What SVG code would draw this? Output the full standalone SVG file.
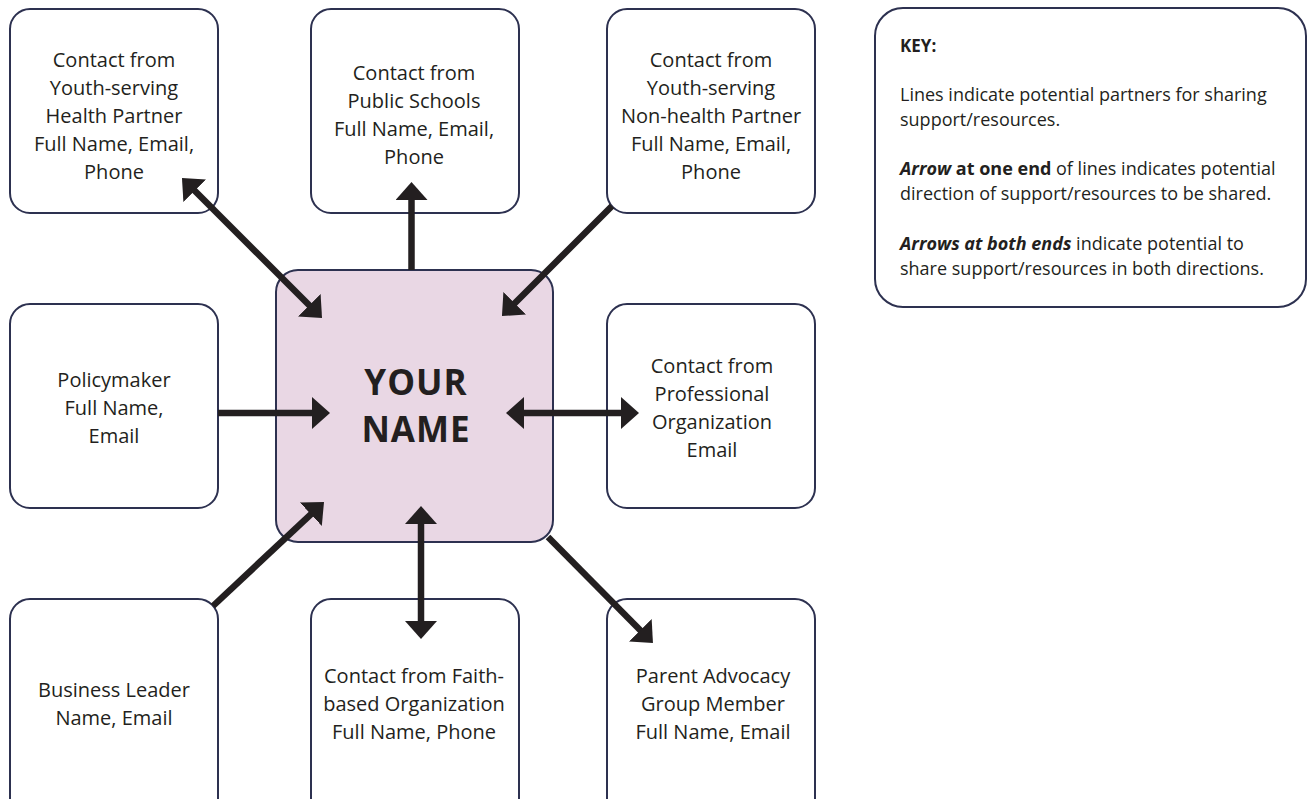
<svg xmlns="http://www.w3.org/2000/svg" width="1307" height="799" viewBox="0 0 1307 799">
<defs>
<style>
.box{fill:#ffffff;stroke:#2d3150;stroke-width:2}
.center{fill:#e9d7e4;stroke:#2d3150;stroke-width:2}
.t{font-family:"Open Sans","Noto Sans",sans-serif;font-size:20px;fill:#231f20;text-anchor:middle}
.big{font-family:"Open Sans","Noto Sans",sans-serif;font-size:35px;font-weight:bold;fill:#231f20;text-anchor:middle;letter-spacing:1px}
.k{font-family:"Open Sans","Noto Sans",sans-serif;font-size:18px;fill:#231f20}
.kb{font-weight:bold}
.kbi{font-weight:bold;font-style:italic}
.conn{stroke:#231f20;stroke-width:6.5;fill:none}
.one{marker-end:url(#ah)}
.two{marker-start:url(#ah);marker-end:url(#ah)}
</style>
<marker id="ah" viewBox="0 -16 18 32" refX="1" refY="0" markerWidth="18" markerHeight="32" markerUnits="userSpaceOnUse" orient="auto-start-reverse">
<path d="M0,-16 L18,0 L0,16 z" fill="#231f20"/>
</marker>
</defs>

<g id="node-health">
<rect class="box" x="10" y="9" width="208" height="204" rx="20"/>
<text class="t" x="114" y="67">Contact from</text>
<text class="t" x="114" y="95">Youth-serving</text>
<text class="t" x="114" y="123">Health Partner</text>
<text class="t" x="114" y="151">Full Name, Email,</text>
<text class="t" x="114" y="179">Phone</text>
</g>

<g id="node-schools">
<rect class="box" x="311" y="9" width="208" height="204" rx="20"/>
<text class="t" x="414" y="80">Contact from</text>
<text class="t" x="414" y="108">Public Schools</text>
<text class="t" x="414" y="136">Full Name, Email,</text>
<text class="t" x="414" y="164">Phone</text>
</g>

<g id="node-nonhealth">
<rect class="box" x="607" y="9" width="208" height="204" rx="20"/>
<text class="t" x="711" y="67">Contact from</text>
<text class="t" x="711" y="95">Youth-serving</text>
<text class="t" x="711" y="123">Non-health Partner</text>
<text class="t" x="711" y="151">Full Name, Email,</text>
<text class="t" x="711" y="179">Phone</text>
</g>

<g id="node-policymaker">
<rect class="box" x="10" y="304" width="208" height="204" rx="20"/>
<text class="t" x="114" y="387">Policymaker</text>
<text class="t" x="114" y="415">Full Name,</text>
<text class="t" x="114" y="443">Email</text>
</g>

<g id="node-professional">
<rect class="box" x="607" y="304" width="208" height="204" rx="20"/>
<text class="t" x="712" y="373">Contact from</text>
<text class="t" x="712" y="401">Professional</text>
<text class="t" x="712" y="429">Organization</text>
<text class="t" x="712" y="457">Email</text>
</g>

<g id="node-business">
<rect class="box" x="10" y="599" width="208" height="220" rx="20"/>
<text class="t" x="114" y="697">Business Leader</text>
<text class="t" x="114" y="725">Name, Email</text>
</g>

<g id="node-faith">
<rect class="box" x="311" y="599" width="208" height="220" rx="20"/>
<text class="t" x="414" y="683">Contact from Faith-</text>
<text class="t" x="414" y="711">based Organization</text>
<text class="t" x="414" y="739">Full Name, Phone</text>
</g>

<g id="node-parent">
<rect class="box" x="607" y="599" width="208" height="220" rx="20"/>
<text class="t" x="713" y="683">Parent Advocacy</text>
<text class="t" x="713" y="711">Group Member</text>
<text class="t" x="713" y="739">Full Name, Email</text>
</g>

<g id="node-center">
<rect class="center" x="276" y="270" width="277" height="272" rx="22"/>
<text class="big" x="416" y="395">YOUR</text>
<text class="big" x="416" y="442">NAME</text>
</g>

<g id="key">
<rect class="box" x="875" y="8" width="431" height="299" rx="28"/>
<text class="k kb" x="900" y="52" style="font-size:17px">KEY:</text>
<text class="k" x="900" y="101">Lines indicate potential partners for sharing</text>
<text class="k" x="900" y="126">support/resources.</text>
<text class="k" x="900" y="175"><tspan class="kbi">Arrow</tspan><tspan class="kb"> at one end</tspan> of lines indicates potential</text>
<text class="k" x="900" y="200">direction of support/resources to be shared.</text>
<text class="k" x="900" y="250"><tspan class="kbi">Arrows at both ends</tspan> indicate potential to</text>
<text class="k" x="900" y="275">share support/resources in both directions.</text>
</g>

<g id="connectors">
<line class="conn two" x1="194" y1="190" x2="310" y2="306"/>
<line class="conn one" x1="411.5" y1="270" x2="411.5" y2="199"/>
<line class="conn one" x1="612" y1="206" x2="514" y2="304"/>
<line class="conn one" x1="218" y1="413" x2="313" y2="413"/>
<line class="conn two" x1="523" y1="413" x2="622" y2="413"/>
<line class="conn one" x1="213" y1="606" x2="311.6" y2="513.6"/>
<line class="conn two" x1="421" y1="523" x2="421" y2="622"/>
<line class="conn one" x1="548" y1="537" x2="641" y2="631"/>
</g>
</svg>
